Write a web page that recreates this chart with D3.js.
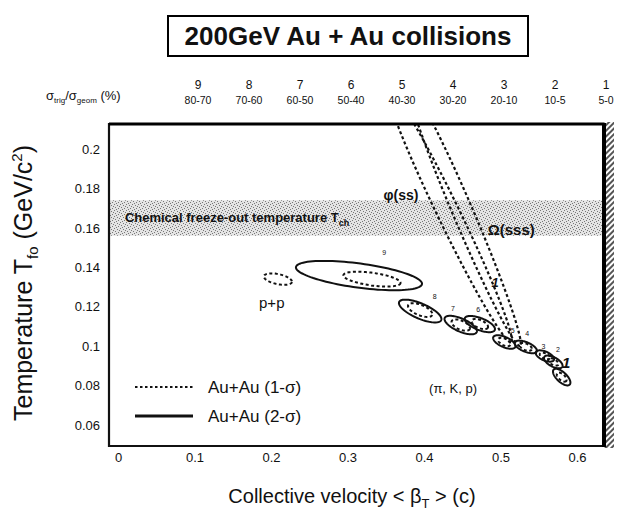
<!DOCTYPE html>
<html><head><meta charset="utf-8">
<script src="https://cdn.jsdelivr.net/npm/d3@7"></script>
<style>
body{margin:0;background:#fff;}
text{font-family:"Liberation Sans",Arial,Helvetica,sans-serif;fill:#111;}
</style></head><body>
<svg id="chart" width="618" height="516"></svg>
<script>
// ---- data -------------------------------------------------------------
const centralityBins   = ["9","8","7","6","5","4","3","2","1"];
const centralityRanges = ["80-70","70-60","60-50","50-40","40-30","30-20","20-10","10-5","5-0"];
const xTicks = [0, 0.1, 0.2, 0.3, 0.4, 0.5, 0.6];
const yTicks = [0.06, 0.08, 0.1, 0.12, 0.14, 0.16, 0.18, 0.2];

// chemical freeze-out band (GeV)
const chemBand = [0.156, 0.174];

// contour = centre (<beta_T>, T_fo), half major axis (dBeta, dTemp), minor/major ratio
const ppContour = [{beta:0.209, temp:0.134, dBeta:0.0183, dTemp:-0.0015, ratio:0.35}];

// Au+Au 2-sigma contours, centrality bins 9..1
const auau2Sigma = [
  {bin:"9", beta:0.315, temp:0.1358, dBeta:0.0824, dTemp:-0.0043, ratio:0.19},
  {bin:"8", beta:0.395, temp:0.1178, dBeta:0.0275, dTemp:-0.0046, ratio:0.33},
  {bin:"7", beta:0.448, temp:0.1107, dBeta:0.0209, dTemp:-0.0036, ratio:0.37},
  {bin:"6", beta:0.473, temp:0.1112, dBeta:0.0196, dTemp:-0.0030, ratio:0.37},
  {bin:"5", beta:0.505, temp:0.1021, dBeta:0.0144, dTemp:-0.0025, ratio:0.42},
  {bin:"4", beta:0.533, temp:0.0996, dBeta:0.0144, dTemp:-0.0023, ratio:0.40},
  {bin:"3", beta:0.558, temp:0.0950, dBeta:0.0118, dTemp:-0.0020, ratio:0.45},
  {bin:"2", beta:0.569, temp:0.0920, dBeta:0.0118, dTemp:-0.0025, ratio:0.45},
  {bin:"1", beta:0.580, temp:0.0843, dBeta:0.0105, dTemp:-0.0038, ratio:0.45}
];

// Au+Au 1-sigma contours, centrality bins 9..1
const auau1Sigma = [
  {bin:"9", beta:0.332, temp:0.1340, dBeta:0.0373, dTemp:-0.0020, ratio:0.22},
  {bin:"8", beta:0.395, temp:0.1183, dBeta:0.0157, dTemp:-0.0025, ratio:0.40},
  {bin:"7", beta:0.448, temp:0.1107, dBeta:0.0118, dTemp:-0.0020, ratio:0.45},
  {bin:"6", beta:0.473, temp:0.1112, dBeta:0.0105, dTemp:-0.0018, ratio:0.45},
  {bin:"5", beta:0.505, temp:0.1021, dBeta:0.0078, dTemp:-0.0015, ratio:0.50},
  {bin:"4", beta:0.533, temp:0.0996, dBeta:0.0078, dTemp:-0.0013, ratio:0.50},
  {bin:"3", beta:0.558, temp:0.0950, dBeta:0.0065, dTemp:-0.0011, ratio:0.50},
  {bin:"2", beta:0.569, temp:0.0920, dBeta:0.0065, dTemp:-0.0014, ratio:0.50},
  {bin:"1", beta:0.580, temp:0.0843, dBeta:0.0059, dTemp:-0.0020, ratio:0.50}
];

// multi-strange hadrons, central collisions (1-sigma)
const strangeContours = [
  {name:"phi",   beta:0.4333, temp:0.1665, dBeta:0.0804, dTemp:-0.0644, ratio:0.078},
  {name:"omega", beta:0.4536, temp:0.1655, dBeta:0.0719, dTemp:-0.0654, ratio:0.072}
];

// centrality tags next to the contours
const binTags = [
  {t:"9", beta:0.348, temp:0.1462}, {t:"8", beta:0.414, temp:0.1239},
  {t:"7", beta:0.438, temp:0.1178}, {t:"6", beta:0.471, temp:0.1173},
  {t:"5", beta:0.516, temp:0.1067}, {t:"4", beta:0.535, temp:0.1051},
  {t:"3", beta:0.556, temp:0.0985}, {t:"2", beta:0.575, temp:0.0970}
];

// ---- layout -----------------------------------------------------------
const svg = d3.select("#chart");
const frame = {left:109, right:604, top:124, bottom:446};
const x = d3.scaleLinear().domain([0, 0.6]).range([118, 577]);
const y = d3.scaleLinear().domain([0.06, 0.2]).range([425, 149]);

const defs = svg.append("defs");
defs.append("clipPath").attr("id","plotClip").append("rect")
  .attr("x", frame.left).attr("y", frame.top)
  .attr("width", frame.right - frame.left).attr("height", frame.bottom - frame.top);

// stipple for the freeze-out band
const stip = defs.append("pattern").attr("id","stipple").attr("patternUnits","userSpaceOnUse")
  .attr("width", 6).attr("height", 6);
stip.append("rect").attr("width",6).attr("height",6).attr("fill","#e4e4e4");
[[0,0],[3,1],[1,3],[4,4],[2,5],[5,2]].forEach(([a,b]) =>
  stip.append("rect").attr("x",a).attr("y",b).attr("width",1).attr("height",1).attr("fill","#777"));

// hatch for the right-hand strip
const hatch = defs.append("pattern").attr("id","hatch").attr("patternUnits","userSpaceOnUse")
  .attr("width", 4).attr("height", 4).attr("patternTransform","rotate(45)");
hatch.append("rect").attr("width",4).attr("height",4).attr("fill","#fff");
hatch.append("rect").attr("width",2).attr("height",4).attr("fill","#555");

// ---- title ------------------------------------------------------------
svg.append("rect").attr("x",168).attr("y",16).attr("width",360).attr("height",40)
  .attr("fill","#fff").attr("stroke","#000").attr("stroke-width",2);
svg.append("text").attr("x",348).attr("y",45).attr("text-anchor","middle")
  .attr("font-size",26).attr("font-weight","bold").text("200GeV Au + Au collisions");

// ---- top centrality axis ---------------------------------------------
const centScale = d3.scalePoint().domain(centralityBins).range([198, 606]);
svg.append("g").selectAll("text").data(centralityBins).join("text")
  .attr("x", d => centScale(d)).attr("y", 89).attr("text-anchor","middle")
  .attr("font-size", 12).text(d => d);
svg.append("g").selectAll("text").data(centralityBins).join("text")
  .attr("x", d => centScale(d)).attr("y", 104).attr("text-anchor","middle")
  .attr("font-size", 10.5).text((d,i) => centralityRanges[i]);
const sig = svg.append("text").attr("x", 46).attr("y", 100).attr("font-size", 13);
sig.append("tspan").text("σ");
sig.append("tspan").attr("font-size",8).attr("dy",3).text("trig");
sig.append("tspan").attr("dy",-3).text("/σ");
sig.append("tspan").attr("font-size",8).attr("dy",3).text("geom");
sig.append("tspan").attr("dy",-3).text(" (%)");

// ---- plot body --------------------------------------------------------
const body = svg.append("g").attr("clip-path","url(#plotClip)");

body.append("rect")
  .attr("x", frame.left).attr("width", frame.right - frame.left)
  .attr("y", y(chemBand[1])).attr("height", y(chemBand[0]) - y(chemBand[1]))
  .attr("fill","url(#stipple)");
const bandLabel = body.append("text")
  .attr("x", x(0.009)).attr("y", y((chemBand[0]+chemBand[1])/2) + 4)
  .attr("font-size", 13).attr("font-weight","bold").attr("fill","#222");
bandLabel.append("tspan").text("Chemical freeze-out temperature T");
bandLabel.append("tspan").attr("font-size",9).attr("dy",4).text("ch");

function ellipse(e){
  const cx = x(e.beta), cy = y(e.temp);
  const ax = x(e.beta + e.dBeta) - cx, ay = y(e.temp + e.dTemp) - cy;
  const len = Math.hypot(ax, ay), b = len * e.ratio;
  const px = -ay / len * b, py = ax / len * b;
  const pts = d3.range(0, 96).map(i => {
    const t = i / 96 * 2 * Math.PI;
    return [cx + ax*Math.cos(t) + px*Math.sin(t), cy + ay*Math.cos(t) + py*Math.sin(t)];
  });
  return d3.line().curve(d3.curveLinearClosed)(pts);
}

const dash = "3,2.5";
body.append("g").selectAll("path").data(strangeContours).join("path")
  .attr("d", ellipse).attr("fill","none").attr("stroke","#111")
  .attr("stroke-width", 2.2).attr("stroke-dasharray", dash);
body.append("g").selectAll("path").data(auau2Sigma).join("path")
  .attr("d", ellipse).attr("fill","none").attr("stroke","#111").attr("stroke-width", 2);
body.append("g").selectAll("path").data(auau1Sigma).join("path")
  .attr("d", ellipse).attr("fill","none").attr("stroke","#111")
  .attr("stroke-width", 2).attr("stroke-dasharray", dash);
body.append("g").selectAll("path").data(ppContour).join("path")
  .attr("d", ellipse).attr("fill","none").attr("stroke","#111")
  .attr("stroke-width", 2).attr("stroke-dasharray", dash);

body.append("g").selectAll("text").data(binTags).join("text")
  .attr("x", d => x(d.beta)).attr("y", d => y(d.temp)).attr("text-anchor","middle")
  .attr("font-size", 7).attr("fill","#333").text(d => d.t);
body.append("text").attr("x", x(0.586)).attr("y", y(0.0914)+5).attr("text-anchor","middle")
  .attr("font-size", 15).attr("font-weight","bold").attr("font-style","italic").text("1");
body.append("text").attr("x", x(0.493)).attr("y", y(0.1325)+5).attr("text-anchor","middle")
  .attr("font-size", 13).attr("font-weight","bold").attr("font-style","italic").text("1");

body.append("text").attr("x", x(0.370)).attr("y", y(0.1767)+5).attr("text-anchor","middle")
  .attr("font-size", 14).attr("font-weight","bold").text("φ(ss)");
body.append("text").attr("x", x(0.514)).attr("y", y(0.1589)+5).attr("text-anchor","middle")
  .attr("font-size", 15).attr("font-weight","bold").text("Ω(sss)");
body.append("text").attr("x", x(0.201)).attr("y", y(0.1219)+5).attr("text-anchor","middle")
  .attr("font-size", 15).text("p+p");
body.append("text").attr("x", x(0.438)).attr("y", y(0.0788)+5).attr("text-anchor","middle")
  .attr("font-size", 13).text("(π, K, p)");

// legend
const legend = body.append("g");
legend.append("line").attr("x1",135).attr("x2",193).attr("y1",387).attr("y2",387)
  .attr("stroke","#111").attr("stroke-width",2).attr("stroke-dasharray","2.5,2.5");
legend.append("line").attr("x1",135).attr("x2",193).attr("y1",416).attr("y2",416)
  .attr("stroke","#111").attr("stroke-width",3);
legend.append("text").attr("x",208).attr("y",393).attr("font-size",17).text("Au+Au (1-σ)");
legend.append("text").attr("x",208).attr("y",422).attr("font-size",17).text("Au+Au (2-σ)");

// ---- frame and axes ---------------------------------------------------
svg.append("rect").attr("x", frame.right).attr("y", frame.top - 2)
  .attr("width", 10).attr("height", frame.bottom - frame.top + 4).attr("fill","url(#hatch)");
svg.append("path")
  .attr("d", `M${frame.left},${frame.top}H${frame.right}V${frame.bottom}H${frame.left}Z`)
  .attr("fill","none").attr("stroke","#111").attr("stroke-width",2.2);
svg.append("line").attr("x1",frame.right).attr("x2",frame.right)
  .attr("y1",frame.top-1).attr("y2",frame.bottom+1).attr("stroke","#000").attr("stroke-width",4);
svg.append("line").attr("x1",frame.left).attr("x2",frame.right)
  .attr("y1",frame.top).attr("y2",frame.top).attr("stroke","#000").attr("stroke-width",3);

const xAxis = svg.append("g").attr("transform", `translate(0,${frame.bottom})`)
  .call(d3.axisBottom(x).tickValues(xTicks).tickSize(0).tickPadding(7)
        .tickFormat(d => d === 0 ? "0" : d3.format(".1f")(d)));
xAxis.select(".domain").remove();
xAxis.selectAll("text").attr("font-size",13).attr("fill","#111")
  .style("font-family",'"Liberation Sans",Arial,sans-serif');

const yAxis = svg.append("g").attr("transform", `translate(${frame.left - 9},0)`)
  .call(d3.axisLeft(y).tickValues(yTicks).tickSize(0).tickPadding(0)
        .tickFormat(d => d3.format("")(+d.toFixed(2))));
yAxis.select(".domain").remove();
yAxis.selectAll("text").attr("font-size",13).attr("fill","#111")
  .style("font-family",'"Liberation Sans",Arial,sans-serif');

// axis titles
const xt = svg.append("text").attr("x", 352).attr("y", 503).attr("text-anchor","middle").attr("font-size", 20);
xt.append("tspan").text("Collective velocity < β");
xt.append("tspan").attr("font-size",13).attr("dy",5).text("T");
xt.append("tspan").attr("dy",-5).text(" > (c)");

const yt = svg.append("text").attr("transform","translate(32,283) rotate(-90)")
  .attr("text-anchor","middle").attr("font-size", 25);
yt.append("tspan").text("Temperature T");
yt.append("tspan").attr("font-size",15).attr("dy",6).text("fo");
yt.append("tspan").attr("dy",-6).text(" (GeV/c");
yt.append("tspan").attr("font-size",15).attr("dy",-10).text("2");
yt.append("tspan").attr("dy",10).text(")");
</script>
</body></html>
